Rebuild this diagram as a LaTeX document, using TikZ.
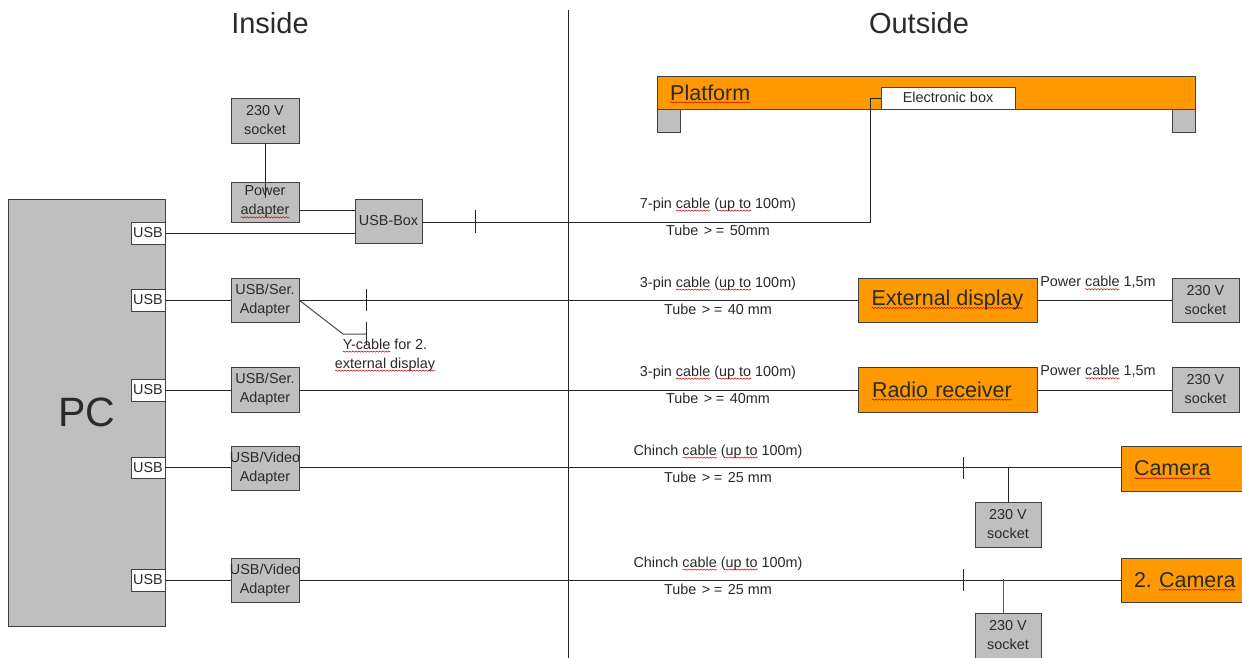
\documentclass[tikz,border=0pt]{standalone}
\usepackage{fontspec}
\setmainfont{Liberation Sans}
\frenchspacing
\usetikzlibrary{decorations.pathmorphing}
\definecolor{boxgray}{HTML}{BFBFBF}
\definecolor{platorange}{HTML}{FF9900}
\definecolor{edgegray}{HTML}{404040}
\definecolor{txt}{HTML}{2A2A2A}
\newsavebox\sqbox
\newcommand\sq[1]{\sbox\sqbox{#1}\leavevmode\rlap{\tikz[overlay,baseline=0pt]\draw[red!80!black,line width=.5pt,decorate,decoration={snake,amplitude=.6pt,segment length=3pt}] (0pt,-2.4pt) -- (\the\wd\sqbox,-2.4pt);}\usebox\sqbox}
\newcommand\bx[7]{\node[#6,minimum width={(#4-#2)*1pt},minimum height={(#5-#3)*1pt}] (#1) at ({(#2+#4)/2},{(#3+#5)/2}) {#7};}
\newcommand\gesign{\kern1.5pt>\kern3.5pt=\kern1.5pt}
\tikzset{
 base/.style={draw=edgegray,line width=1pt,inner sep=0pt,outer sep=0pt,align=center,text=txt,font=\fontsize{14.4}{19}\selectfont},
 graybox/.style={base,fill=boxgray},
 usbbox/.style={base,fill=white},
 orangebox/.style={base,fill=platorange,font=\fontsize{21.5}{26}\selectfont},
 wire/.style={line width=1pt,draw=black!85},
 lab/.style={inner sep=0pt,text=txt,align=center,font=\fontsize{14.4}{19}\selectfont},
 head/.style={inner sep=0pt,text=txt,font=\fontsize{29}{34}\selectfont},
}
\begin{document}
\begin{tikzpicture}[x=1pt,y=-1pt]
\useasboundingbox (0,0) rectangle (1242,657);
\clip (0,0) rectangle (1242,657);
\fill[white] (0,0) rectangle (1242,657);
\node[head] (inside) at (270,23) {Inside};
\node[head] (outside) at (919,23) {Outside};
\coordinate (divtop) at (568,10);
\coordinate (divbot) at (568,658);
\draw[wire] (divtop) -- (divbot);

% PC
\bx{pc}{8}{199}{165}{626}{graybox,font=\fontsize{41}{50}\selectfont}{PC}
\bx{usba}{131}{222}{165}{244}{usbbox}{USB}
\bx{usbb}{131}{289}{165}{311}{usbbox}{USB}
\bx{usbc}{131}{379}{165}{401}{usbbox}{USB}
\bx{usbd}{131}{457}{165}{478}{usbbox}{USB}
\bx{usbe}{131}{569}{165}{591}{usbbox}{USB}

% Platform
\bx{platform}{657}{76}{1195}{109}{orangebox}{}
\node[inner sep=0pt,anchor=base west,text=txt,font=\fontsize{21.5}{26}\selectfont] (platlabel) at (670,100) {\sq{Platform}};
\bx{legl}{657}{109}{680}{132}{graybox}{}
\bx{legr}{1172}{109}{1195}{132}{graybox}{}
\bx{ebox}{881}{87}{1015}{109}{usbbox}{\raisebox{1pt}{Electronic box}}

% Row 1
\bx{socka}{231}{98}{299}{143}{graybox}{230 V\\socket}
\bx{power}{231}{182}{299}{222}{graybox}{\raisebox{-2pt}{Power}\\\raisebox{-2pt}{\sq{adapter}}}
\bx{ubox}{355}{199}{422}{243}{graybox}{USB-Box}
\coordinate (pwrin) at (265,198);
\draw[wire] (socka.south -| pwrin) -- (pwrin);
\draw[wire] (power.east |- 0,210) -- (ubox.west |- 0,210);
\draw[wire] (usba.east |- 0,233) -- (ubox.west |- 0,233);
\coordinate (corner) at (870,222);
\draw[wire] (ubox.east |- corner) -- (corner) -- (corner |- ebox.west) -- (ebox.west);
\coordinate (ta1) at (475,210); \coordinate (ta2) at (475,233);
\draw[wire] (ta1) -- (ta2);
\node[lab] (l1a) at (718,204.5) {7-pin \sq{cable} (\sq{up to} 100m)};
\node[lab] (l1b) at (718,230.5) {Tube \gesign{} 50mm};

% Row 2
\bx{sera}{231}{278}{299}{322}{graybox}{\raisebox{-1pt}{USB/Ser.}\\\raisebox{-1pt}{Adapter}}
\bx{disp}{858}{278}{1037}{322}{orangebox}{\sq{External display}}
\bx{sockb}{1172}{278}{1239}{322}{graybox}{230 V\\socket}
\draw[wire] (usbb.east) -- (sera.west);
\draw[wire] (sera.east) -- (disp.west);
\draw[wire] (disp.east) -- (sockb.west);
\coordinate (tb1) at (366,289); \coordinate (tb2) at (366,311);
\draw[wire] (tb1) -- (tb2);
\coordinate (ya) at (343,334); \coordinate (yb) at (366,334);
\coordinate (tc1) at (366,322); \coordinate (tc2) at (366,345);
\draw[wire,draw=black!70] (sera.east) -- (ya) -- (yb);
\draw[wire] (tc1) -- (tc2);
\node[lab] (ylab) at (385,355) {\sq{Y-cable} for 2.\\\sq{external display}};
\node[lab] (l2a) at (718,283.5) {3-pin \sq{cable} (\sq{up to} 100m)};
\node[lab] (l2b) at (718,309.5) {Tube \gesign{} 40 mm};
\node[lab] (l2c) at (1098,282.5) {Power \sq{cable} 1,5m};

% Row 3
\bx{serb}{231}{367}{299}{412}{graybox}{\raisebox{-1pt}{USB/Ser.}\\\raisebox{-1pt}{Adapter}}
\bx{radio}{858}{367}{1037}{412}{orangebox,text width=151pt,align=left}{\sq{Radio receiver}}
\bx{sockc}{1172}{367}{1239}{412}{graybox}{230 V\\socket}
\draw[wire] (usbc.east) -- (serb.west |- usbc.east);
\draw[wire] (serb.east |- usbc.east) -- (radio.west |- usbc.east);
\draw[wire] (radio.east |- usbc.east) -- (sockc.west |- usbc.east);
\node[lab] (l3a) at (718,372.5) {3-pin \sq{cable} (\sq{up to} 100m)};
\node[lab] (l3b) at (718,398.5) {Tube \gesign{} 40mm};
\node[lab] (l3c) at (1098,371.5) {Power \sq{cable} 1,5m};

% Row 4
\bx{vida}{231}{446}{299}{490}{graybox}{\raisebox{-1pt}{\makebox[60pt]{USB/Video}}\\\raisebox{-1pt}{Adapter}}
\bx{cam}{1121}{446}{1250}{491}{orangebox,text width=103pt,align=left}{\sq{Camera}}
\bx{sockd}{975}{502}{1041}{547}{graybox}{230 V\\socket}
\draw[wire] (usbd.east) -- (vida.west |- usbd.east);
\draw[wire] (vida.east |- usbd.east) -- (cam.west |- usbd.east);
\coordinate (td1) at (963,457); \coordinate (td2) at (963,479);
\draw[wire] (td1) -- (td2);
\coordinate (jd) at (1008,468);
\draw[wire] (jd) -- (jd |- sockd.north);
\node[lab] (l4a) at (718,451.5) {Chinch \sq{cable} (\sq{up to} 100m)};
\node[lab] (l4b) at (718,477.5) {Tube \gesign{} 25 mm};

% Row 5
\bx{vidb}{231}{558}{299}{602}{graybox}{\raisebox{-1pt}{\makebox[60pt]{USB/Video}}\\\raisebox{-1pt}{Adapter}}
\bx{camb}{1121}{558}{1250}{602}{orangebox,text width=103pt,align=left}{2. \sq{Camera}}
\bx{socke}{975}{613}{1041}{670}{graybox}{}
\node[lab] (sockelab) at (1008,635) {230 V\\socket};
\draw[wire] (usbe.east) -- (vidb.west |- usbe.east);
\draw[wire] (vidb.east |- usbe.east) -- (camb.west |- usbe.east);
\coordinate (te1) at (963,569); \coordinate (te2) at (963,591);
\draw[wire] (te1) -- (te2);
\coordinate (je) at (1003,579);
\draw[wire,draw=black!65] (je) -- (je |- socke.north);
\node[lab] (l5a) at (718,563.5) {Chinch \sq{cable} (\sq{up to} 100m)};
\node[lab] (l5b) at (718,589.5) {Tube \gesign{} 25 mm};
\end{tikzpicture}
\end{document}
